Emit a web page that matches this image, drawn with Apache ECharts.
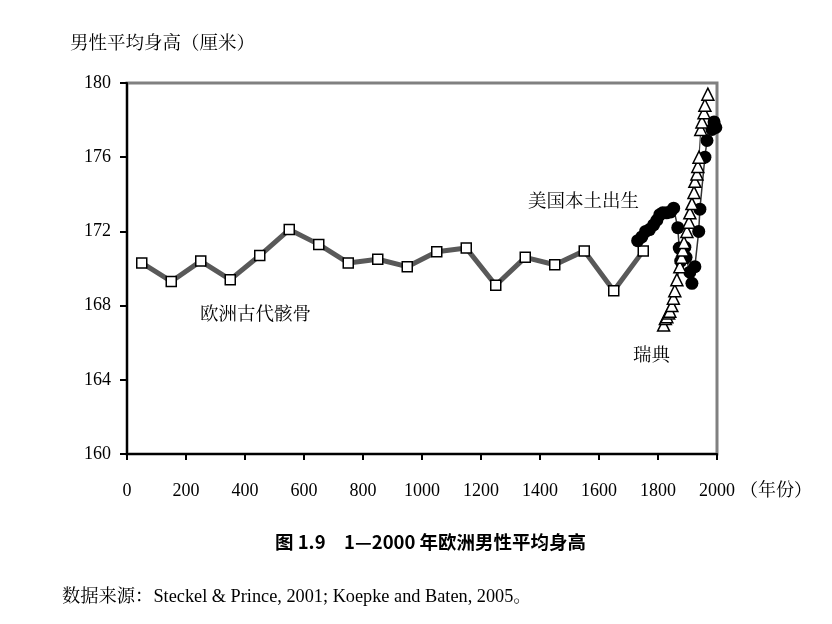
<!DOCTYPE html>
<html>
<head>
<meta charset="utf-8">
<script src="https://cdn.jsdelivr.net/npm/echarts@6/dist/echarts.min.js"></script>
<style>html,body{margin:0;padding:0;background:#fff;}#c{width:832px;height:624px;}</style>
</head>
<body>
<div id="c"></div>
<script>
// Europe skeletons (squares)
var euYears = [50,150,250,350,450,550,650,750,850,950,1050,1150,1250,1350,1450,1550,1650,1750];
var euHeights = [170.3,169.3,170.4,169.4,170.7,172.1,171.3,170.3,170.5,170.1,170.9,171.1,169.1,170.6,170.2,170.95,168.8,170.95];
// US native-born (filled circles)
var usYears = [1731,1745,1758,1771,1785,1796,1806,1816,1829,1843,1853,1867,1872,1877,1891,1895,1908,1915,1925,1938,1942,1959,1966,1983,1990,1996];
var usHeights = [171.5,171.7,172.0,172.1,172.35,172.6,172.9,173.0,173.0,173.05,173.25,172.2,171.1,170.4,171.15,170.6,169.8,169.2,170.1,172.0,173.2,176.0,176.9,177.5,177.9,177.6];
// Sweden (hollow triangles)
var seYears = [1819,1825,1830,1836,1840,1847,1852,1857,1864,1874,1880,1884,1888,1898,1905,1908,1915,1922,1925,1932,1935,1939,1945,1949,1956,1959,1969];
var seHeights = [166.95,167.3,167.4,167.6,167.7,168.0,168.4,168.8,169.4,170.1,170.6,171.0,171.4,172.0,172.5,173.0,173.5,174.1,174.7,175.1,175.5,176.0,177.5,177.9,178.4,178.8,179.4];
// axis ticks
var xMin = 0, xMax = 2000, xStep = 200;
var yMin = 160, yMax = 180, yStep = 4;

function pairs(xs, ys){ return xs.map(function(x,i){ return [x, ys[i]]; }); }

var serif = '"Liberation Serif","Noto Serif CJK SC","Noto Sans CJK SC",serif';
var chart = echarts.init(document.getElementById('c'));
chart.setOption({
  animation: false,
  backgroundColor: '#fff',
  grid: { left: 127, right: 115, top: 83, bottom: 170, show: true, borderColor: '#808080', borderWidth: 3, backgroundColor: 'transparent' },
  xAxis: {
    type: 'value', min: xMin, max: xMax, interval: xStep,
    axisLine: { show: true, onZero: false, lineStyle: { color: '#000', width: 2 } },
    axisTick: { show: true, length: 6, lineStyle: { color: '#000', width: 2 } },
    axisLabel: { margin: 28, color: '#000', fontSize: 18, fontFamily: serif, formatter: function(v){ return String(v); } },
    splitLine: { show: false }
  },
  yAxis: {
    type: 'value', min: yMin, max: yMax, interval: yStep,
    axisLine: { show: true, onZero: false, lineStyle: { color: '#000', width: 2 } },
    axisTick: { show: true, length: 7, lineStyle: { color: '#000', width: 2 } },
    axisLabel: { margin: 16, color: '#000', fontSize: 18, fontFamily: serif, formatter: function(v){ return String(v); } },
    splitLine: { show: false }
  },
  series: [
    { type: 'line', data: pairs(euYears, euHeights), symbol: 'rect', symbolSize: 10,
      lineStyle: { color: '#595959', width: 5 },
      itemStyle: { color: '#fff', borderColor: '#000', borderWidth: 1.5 }, z: 2 },
    { type: 'line', data: pairs(usYears, usHeights), symbol: 'circle', symbolSize: 13,
      lineStyle: { color: '#333', width: 1.5 },
      itemStyle: { color: '#000', borderColor: '#000', borderWidth: 0 }, z: 3 },
    { type: 'line', data: pairs(seYears, seHeights), symbol: 'triangle', symbolSize: 12,
      lineStyle: { color: '#444', width: 1.2 },
      itemStyle: { color: '#fff', borderColor: '#000', borderWidth: 1.5 }, z: 4 }
  ],
  graphic: [
    { type: 'text', left: 70, top: 35, style: { text: '男性平均身高（厘米）', font: '18.5px ' + serif, fill: '#000' } },
    { type: 'text', left: 740, top: 482, style: { text: '（年份）', font: '18px ' + serif, fill: '#000' } },
    { type: 'text', left: 528, top: 193, style: { text: '美国本土出生', font: '18.5px ' + serif, fill: '#000' } },
    { type: 'text', left: 200, top: 306, style: { text: '欧洲古代骸骨', font: '18.5px ' + serif, fill: '#000' } },
    { type: 'text', left: 633, top: 347, style: { text: '瑞典', font: '18.5px ' + serif, fill: '#000' } },
    { type: 'text', left: 275, top: 533, style: { text: '图 1.9　1—2000 年欧洲男性平均身高', font: 'bold 18.5px "Noto Sans CJK SC",sans-serif', fill: '#000' } },
    { type: 'text', left: 62, top: 588, style: { text: '数据来源：Steckel & Prince, 2001; Koepke and Baten, 2005。', font: '18.3px ' + serif, fill: '#000' } }
  ]
});
</script>
</body>
</html>
